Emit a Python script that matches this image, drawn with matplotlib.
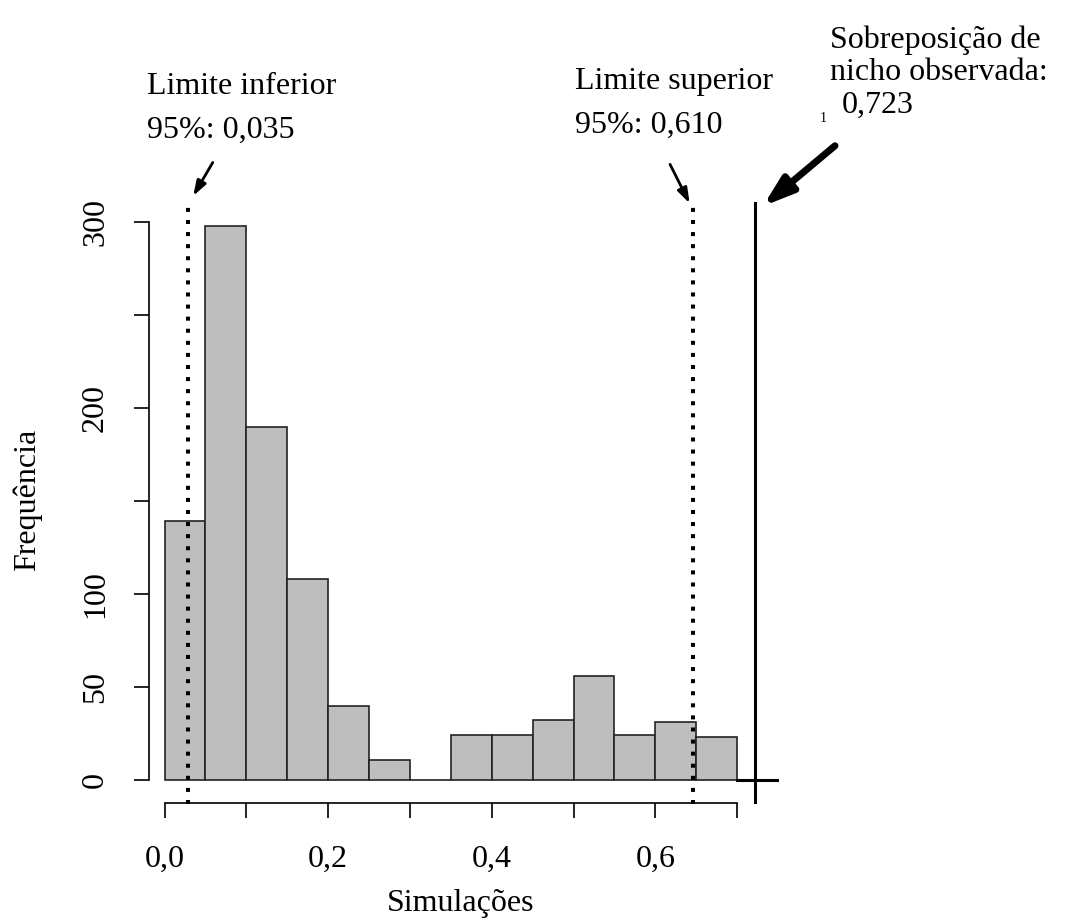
import numpy as np
import matplotlib
matplotlib.use("Agg")
import matplotlib.pyplot as plt

plt.rcParams['font.family'] = ['Liberation Serif', 'DejaVu Serif']

# histogram of simulated niche overlap (bins of 0.05)
bin_edges = [0.00, 0.05, 0.10, 0.15, 0.20, 0.25, 0.30, 0.35,
             0.40, 0.45, 0.50, 0.55, 0.60, 0.65, 0.70]
counts = [139, 298, 190, 108, 40, 11, 0, 24, 24, 32, 56, 24, 31, 23]

lim_inf = 0.029   # dotted line position as drawn
lim_sup = 0.646
observed = 0.7216

x_ticks = [0.0, 0.1, 0.2, 0.3, 0.4, 0.5, 0.6, 0.7]
x_labels = ["0,0", "", "0,2", "", "0,4", "", "0,6", ""]
y_ticks = [0, 50, 100, 150, 200, 250, 300]
y_labels = ["0", "50", "100", "", "200", "", "300"]

W, H = 1068, 919
fig = plt.figure(figsize=(W / 100, H / 100), dpi=100)

# pixel mapping: x 0 -> 164.5px, 0.1 -> 81.8px ; y 0 -> 780px, 1 -> 1.86px
x0, sx = 164.5, 818.0
y0, sy = 780.0, 1.86
xlim = (-0.03, 0.78)
ylim = (-20, 320)
left = x0 + xlim[0] * sx
right = x0 + xlim[1] * sx
bottom = y0 - ylim[0] * sy
top = y0 - ylim[1] * sy
ax = fig.add_axes([left / W, 1 - bottom / H, (right - left) / W, (bottom - top) / H])
ax.set_xlim(xlim)
ax.set_ylim(ylim)

widths = np.diff(bin_edges)
ax.bar(bin_edges[:-1], counts, width=widths, align='edge', color='#bebebe',
       edgecolor='#222222', linewidth=1.2, zorder=2)

ax.plot([lim_inf, lim_inf], [-13, 308], color='black', lw=2.9,
        linestyle=(0, (1, 2)), zorder=3, clip_on=False)
ax.plot([lim_sup, lim_sup], [-13, 308], color='black', lw=2.9,
        linestyle=(0, (1, 2)), zorder=3, clip_on=False)
ax.plot([observed, observed], [-12, 310], color='black', lw=2.2, zorder=3,
        clip_on=False)
ax.plot([0.70, 0.749], [0, 0], color='black', lw=2.2, zorder=3)

# arrows
small = dict(arrowstyle='-|>,head_length=0.9,head_width=0.3', lw=2.0,
             color='black', mutation_scale=10, shrinkA=0, shrinkB=0)
big = dict(arrowstyle='-|>,head_length=0.9,head_width=0.3', lw=5.0,
           color='black', mutation_scale=20, shrinkA=0, shrinkB=0)
ax.annotate("", xy=(0.035, 314), xytext=(0.059, 332), annotation_clip=False,
            arrowprops=small)
ax.annotate("", xy=(0.642, 310), xytext=(0.618, 331), annotation_clip=False,
            arrowprops=small)
ax.annotate("", xy=(0.7316, 308.5), xytext=(0.8197, 341), annotation_clip=False,
            arrowprops=big)

# R-like detached axes
for s in ['top', 'right']:
    ax.spines[s].set_visible(False)
ax.spines['left'].set_position(('data', -0.019))
ax.spines['left'].set_bounds(0, 300)
ax.spines['bottom'].set_position(('data', -12.4))
ax.spines['bottom'].set_bounds(0, 0.7)
for s in ['left', 'bottom']:
    ax.spines[s].set_linewidth(1.2)
ax.set_xticks(x_ticks)
ax.set_xticklabels(x_labels)
ax.set_yticks(y_ticks)
ax.set_yticklabels(y_labels, rotation=90, va='center')
ax.tick_params(axis='both', direction='out', length=11, width=1.2,
               labelsize=23)
ax.tick_params(axis='x', pad=19)
ax.tick_params(axis='y', pad=17)
ax.patch.set_visible(False)

fs = 23
fig.text(147 / W, 1 - 87 / H, "Limite inferior", fontsize=fs, va='center', ha='left')
fig.text(147 / W, 1 - 130 / H, "95%: 0,035", fontsize=fs, va='center', ha='left')
fig.text(575 / W, 1 - 82 / H, "Limite superior", fontsize=fs, va='center', ha='left')
fig.text(575 / W, 1 - 125 / H, "95%: 0,610", fontsize=fs, va='center', ha='left')
fig.text(830 / W, 1 - 40 / H, "Sobreposição de", fontsize=fs, va='center', ha='left')
fig.text(830 / W, 1 - 73 / H, "nicho observada:", fontsize=fs, va='center', ha='left')
fig.text(842 / W, 1 - 105 / H, "0,723", fontsize=fs, va='center', ha='left')
fig.text(823 / W, 1 - 119 / H, "1", fontsize=10, va='center', ha='center')

fig.text(27 / W, 1 - 500 / H, "Frequência", fontsize=fs, rotation=90,
         va='center', ha='center')
fig.text(461 / W, 1 - 903 / H, "Simulações", fontsize=fs, va='center', ha='center')

fig.savefig("out.png", dpi=100)
